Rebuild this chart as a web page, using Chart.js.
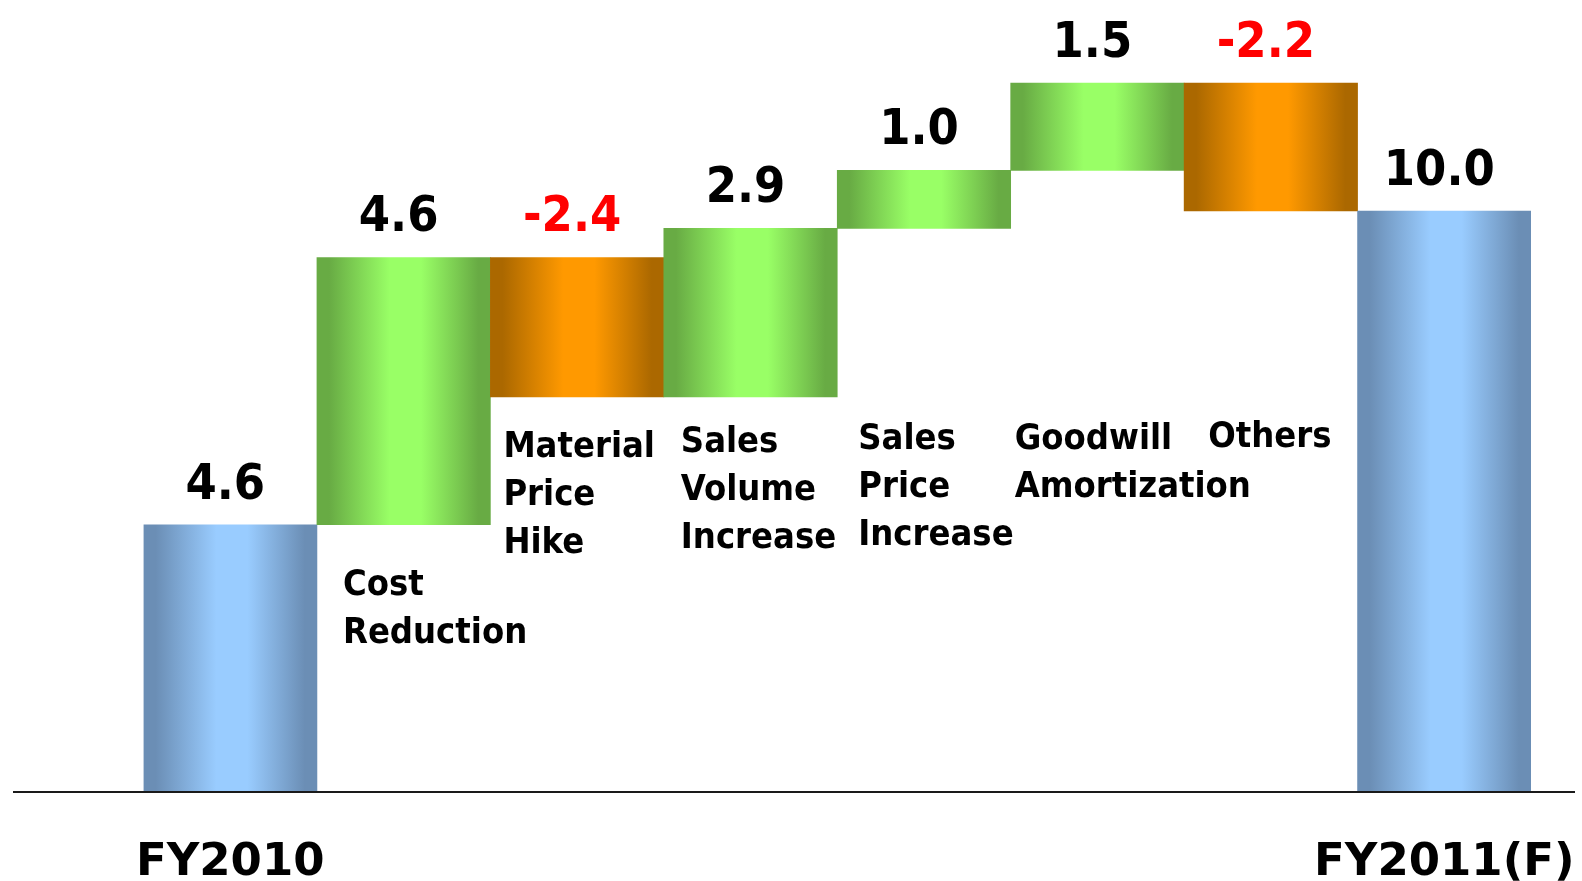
<!DOCTYPE html>
<html>
<head>
<meta charset="utf-8">
<script src="https://cdn.jsdelivr.net/npm/chart.js@4.4.0/dist/chart.umd.min.js"></script>
<style>
  html, body { margin: 0; padding: 0; background: #ffffff; overflow: hidden; }
  #wrap { width: 1582px; height: 881px; position: relative; }
  canvas { display: block; }
</style>
</head>
<body>
<div id="wrap"><canvas id="c" width="1582" height="881"></canvas></div>
<script>
// ---------------- data ----------------
const categories = ['FY2010', 'Cost Reduction', 'Material Price Hike', 'Sales Volume Increase',
                    'Sales Price Increase', 'Goodwill Amortization', 'Others', 'FY2011(F)'];
const values = [4.6, 4.6, -2.4, 2.9, 1.0, 1.5, -2.2, 10.0];
const barKinds = ['total', 'change', 'change', 'change', 'change', 'change', 'change', 'total'];
const valueLabels = ['4.6', '4.6', '-2.4', '2.9', '1.0', '1.5', '-2.2', '10.0'];
const categoryLines = [[], ['Cost', 'Reduction'], ['Material', 'Price', 'Hike'],
                       ['Sales', 'Volume', 'Increase'], ['Sales', 'Price', 'Increase'],
                       ['Goodwill', 'Amortization'], ['Others'], []];
const axisLabels = ['FY2010', '', '', '', '', '', '', 'FY2011(F)'];

// ---------------- styling / layout ----------------
const FONT_COND = '"DejaVu Sans Condensed", "DejaVu Sans", sans-serif';
const FONT_WIDE = '"DejaVu Sans", sans-serif';
const palette = {
  total: { dark: '#6b8eb5', light: '#99ccff' },
  up:    { dark: '#68ab44', light: '#99ff66' },
  down:  { dark: '#ab6800', light: '#ff9900' }
};
// text boxes for the category names: x offset from the bar's left edge, first baseline (px)
const categoryLabelLayout = [null, { dx: 26, y: 595 }, { dx: 13, y: 457 }, { dx: 17, y: 452 },
                             { dx: 21, y: 449 }, { dx: 4, y: 449 }, { dx: 24, y: 447 }, null];
const LINE_GAP = 48;
const VALUE_DX = -5;

// floating ranges built from the values (running total)
const ranges = [];
let running = 0;
values.forEach((v, i) => {
  if (barKinds[i] === 'total') { ranges.push([0, v]); running = v; }
  else { ranges.push([running, running + v]); running += v; }
});

function kindOf(i) {
  if (barKinds[i] === 'total') return 'total';
  return values[i] >= 0 ? 'up' : 'down';
}

function barFill(ctx) {
  const chart = ctx.chart;
  const xs = chart.scales && chart.scales.x;
  const i = ctx.dataIndex;
  if (!xs || i == null) return '#999999';
  const c = palette[kindOf(i)];
  const w = xs.width / categories.length;
  const cx = xs.getPixelForValue(i);
  const x0 = cx - w / 2, x1 = cx + w / 2;
  if (!isFinite(x0) || !isFinite(x1)) return c.light;
  const g = chart.ctx.createLinearGradient(x0, 0, x1, 0);
  g.addColorStop(0, c.dark);
  g.addColorStop(0.07, c.dark);
  g.addColorStop(0.42, c.light);
  g.addColorStop(0.6, c.light);
  g.addColorStop(0.93, c.dark);
  g.addColorStop(1, c.dark);
  return g;
}

const textPlugin = {
  id: 'waterfallText',
  afterDatasetsDraw(chart) {
    const ctx = chart.ctx;
    const xs = chart.scales.x, ys = chart.scales.y;
    const w = xs.width / categories.length;
    ctx.save();

    // baseline axis line
    const y0 = ys.getPixelForValue(0);
    ctx.strokeStyle = '#1a1a1a';
    ctx.lineWidth = 2;
    ctx.beginPath();
    ctx.moveTo(13, y0);
    ctx.lineTo(1575, y0);
    ctx.stroke();

    ctx.textAlign = 'center';
    ctx.textBaseline = 'alphabetic';
    ranges.forEach((r, i) => {
      const cx = xs.getPixelForValue(i);
      const top = ys.getPixelForValue(Math.max(r[0], r[1]));
      // value labels
      ctx.font = 'bold 50px ' + FONT_COND;
      ctx.fillStyle = values[i] < 0 ? '#ff0000' : '#000000';
      ctx.fillText(valueLabels[i], cx + VALUE_DX, top - 26);
      // axis labels
      if (axisLabels[i]) {
        ctx.font = 'bold 45px ' + FONT_WIDE;
        ctx.fillStyle = '#000000';
        ctx.fillText(axisLabels[i], cx, 875);
      }
    });

    // category name text boxes
    ctx.textAlign = 'left';
    ctx.font = 'bold 36px ' + FONT_COND;
    ctx.fillStyle = '#000000';
    categoryLines.forEach((lines, i) => {
      const lay = categoryLabelLayout[i];
      if (!lay || !lines.length) return;
      const left = xs.getPixelForValue(i) - w / 2;
      lines.forEach((t, k) => ctx.fillText(t, left + lay.dx, lay.y + k * LINE_GAP));
    });
    ctx.restore();
  }
};

new Chart(document.getElementById('c'), {
  type: 'bar',
  data: {
    labels: categories,
    datasets: [{
      data: ranges,
      backgroundColor: barFill,
      borderWidth: 0,
      borderSkipped: false,
      barPercentage: 1.0,
      categoryPercentage: 1.0
    }]
  },
  options: {
    responsive: false,
    animation: false,
    devicePixelRatio: 1,
    layout: { padding: { left: 143.5, right: 51, top: 36.7, bottom: 89 } },
    plugins: { legend: { display: false }, tooltip: { enabled: false } },
    scales: {
      x: { display: false, offset: true, grid: { display: false } },
      y: { display: false, min: 0, max: 13, grid: { display: false } }
    }
  },
  plugins: [textPlugin]
});
</script>
</body>
</html>
